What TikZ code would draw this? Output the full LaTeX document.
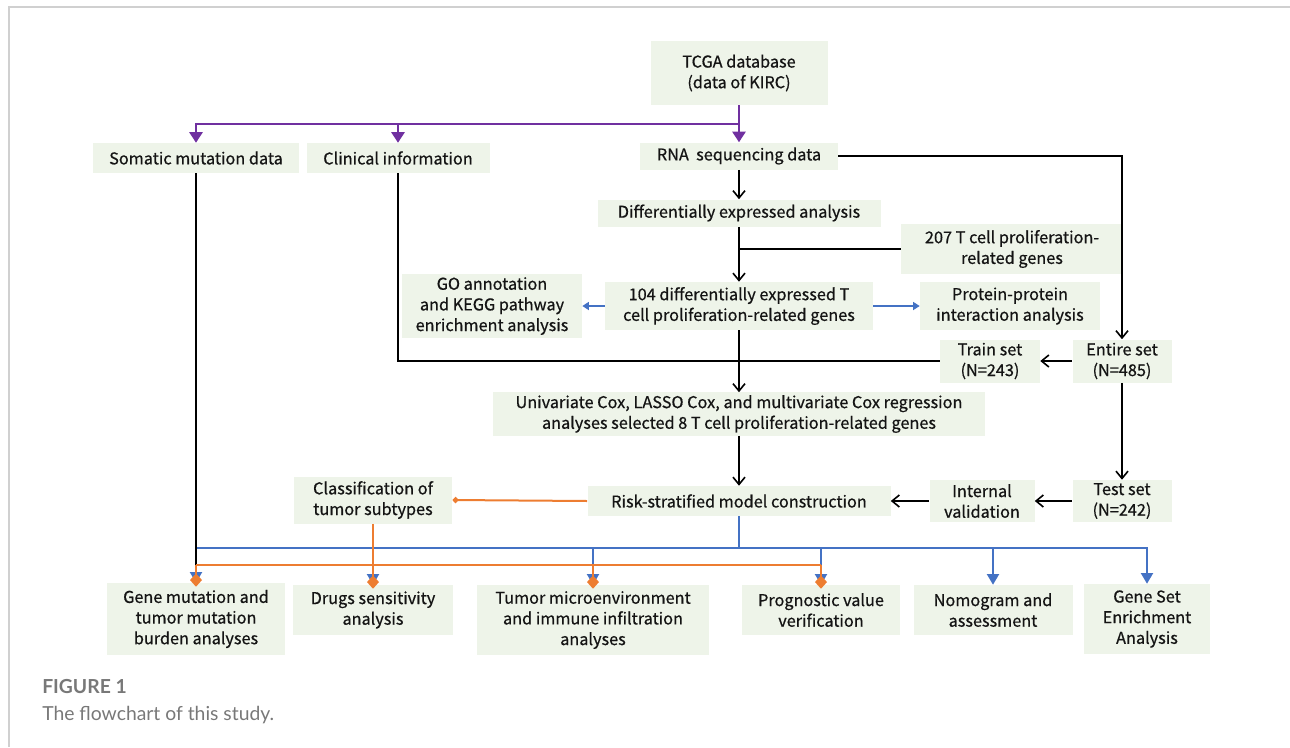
\documentclass[tikz,border=0pt]{standalone}
\usepackage{fontspec}
\setmainfont{Noto Sans CJK SC}
\newfontfamily\boxfont{Noto Sans CJK SC}[FakeBold=0.6]
\newfontfamily\capfont{Lato}
\usetikzlibrary{arrows.meta}

\definecolor{boxgreen}{RGB}{238,244,233}
\definecolor{flowpurple}{RGB}{112,48,160}
\definecolor{flowblue}{RGB}{68,114,196}
\definecolor{floworange}{RGB}{237,125,49}
\definecolor{framegray}{RGB}{208,208,208}
\definecolor{capgray}{RGB}{120,120,120}

\begin{document}
\begin{tikzpicture}[x=0.75pt, y=-0.75pt, line cap=butt, line join=miter]
  \tikzset{
    box/.style={fill=boxgreen, draw=none, inner sep=2pt, align=center,
      font=\boxfont\fontsize{12.2pt}{15.5pt}\selectfont, text=black!92},
    dims/.style 2 args={minimum width=#1*0.75pt, minimum height=#2*0.75pt},
    blk/.style={line width=1.4pt, draw=black},
    blkarr/.style={blk, -{Straight Barb[length=5.5pt, width=9pt, line width=1.2pt]}},
    purp/.style={line width=1.5pt, draw=flowpurple, -{Triangle[length=8pt, width=10pt]}},
    blu/.style={line width=1.5pt, draw=flowblue},
    bluarr/.style={blu, -{Triangle[length=8pt, width=9pt]}},
    bluarrsmall/.style={blu, -{Triangle[length=5pt, width=6pt]}},
    org/.style={line width=1.5pt, draw=floworange},
    orgarr/.style={org, shorten >=-3pt, -{Kite[length=10pt, width=9pt, inset=5pt]}},
    orgarrsmall/.style={org, -{Kite[length=5pt, width=5pt, inset=2.5pt]}}
  }
  \useasboundingbox (0,0) rectangle (1290,747);

  % Frame
  \draw[framegray, line width=1.5pt] (9,747) -- (9,7) -- (1290,7);

  % Source data
  \node[box, dims={177}{64}] (tcga) at (739,73) {TCGA database\\(data of KIRC)};
  \node[box, dims={206}{30}] (somatic) at (196,158) {Somatic mutation data};
  \node[box, dims={183}{30}] (clinical) at (398,158) {Clinical information};
  \node[box, dims={198}{27}] (rna) at (739,156) {RNA\ \ sequencing data};

  % Gene screening
  \node[box, dims={283}{27}] (diff) at (739,213) {Differentially expressed analysis};
  \node[box, dims={222}{50}] (g207) at (1012,249) {207 T cell proliferation-\\related genes};
  \node[box, dims={268}{48}] (deg104) at (739,306) {104 differentially expressed T\\cell proliferation-related genes};
  \node[box, dims={180}{64}] (go) at (492,306) {GO annotation\\and KEGG pathway\\enrichment analysis};
  \node[box, dims={180}{48}] (ppi) at (1010,306) {Protein-protein\\interaction analysis};

  % Sample sets
  \node[box, dims={100}{43}] (train) at (990,361) {Train set\\(N=243)};
  \node[box, dims={99}{43}] (entire) at (1122,361) {Entire set\\(N=485)};
  \node[box, dims={99}{42}] (test) at (1122,501) {Test set\\(N=242)};
  \node[box, dims={105}{42}] (internal) at (982,501) {Internal\\validation};

  % Model
  \node[box, dims={492}{43}] (univ) at (739,414) {Univariate Cox, LASSO Cox, and multivariate Cox regression\\analyses selected 8 T cell proliferation-related genes};
  \node[box, dims={303}{30}] (risk) at (739,501) {Risk-stratified model construction};
  \node[box, dims={158}{47}] (classif) at (373,500) {Classification of\\tumor subtypes};

  % Downstream analyses
  \node[box, dims={178}{72}] (gene) at (196,619) {Gene mutation and\\tumor mutation\\burden analyses};
  \node[box, dims={160}{50}] (drugs) at (373,610) {Drugs sensitivity\\analysis};
  \node[box, dims={232}{70}] (tme) at (593,620) {Tumor microenvironment\\and immune infiltration\\analyses};
  \node[box, dims={158}{50}] (prog) at (821,610) {Prognostic value\\verification};
  \node[box, dims={159}{50}] (nomo) at (993,610) {Nomogram and\\assessment};
  \node[box, dims={126}{70}] (gsea) at (1147,619) {Gene Set\\Enrichment\\Analysis};

  % Purple split from TCGA
  \coordinate (pj) at (739,124);
  \draw[purp] (tcga.south) -- (rna.north);
  \draw[purp] (pj) -| (somatic.north);
  \draw[purp] (pj) -| (clinical.north);

  % Black flow
  \draw[blkarr] (rna) -- (diff);
  \draw[blkarr] (diff) -- (deg104);
  \draw[blk] (g207.west) -- (g207.west -| diff.south);
  \draw[blkarr] (rna.east) -| (entire.north);
  \draw[blkarr] (deg104) -- (univ);
  \draw[blk] (clinical.south) |- (train.west);
  \draw[blkarr] (entire) -- (train);
  \draw[blkarr] (entire) -- (test);
  \draw[blkarr] (test) -- (internal);
  \draw[blkarr] (internal) -- (risk);
  \draw[blkarr] (univ) -- (risk);

  % Blue side analyses
  \draw[bluarrsmall] (deg104) -- (go);
  \draw[bluarrsmall] (deg104) -- (ppi);

  % Blue bus from model
  \coordinate (bj) at (739,548);
  \draw[blu] (risk.south) -- (bj);
  \foreach \target in {gene, drugs, tme, prog, nomo, gsea}
    \draw[bluarr] (bj) -| (\target.north);

  % Somatic data to gene mutation
  \draw[blk] (somatic.south) -- (gene.north);

  % Orange subtype flow
  \coordinate (oj) at (196,565);
  \draw[orgarrsmall] (risk.west) -- (classif.east);
  \draw[orgarr] (classif.south) -- (drugs.north);
  \draw[org] (oj) -- (oj -| prog.north);
  \foreach \target in {gene, tme, prog}
    \draw[orgarr] (oj -| \target.north) -- (\target.north);

  % Caption
  \node[anchor=base west, inner sep=0pt, text=capgray, font=\capfont\bfseries\fontsize{14.5pt}{16pt}\selectfont] (capnum) at (42,693) {FIGURE 1};
  \node[anchor=base west, inner sep=0pt, text=capgray, font=\capfont\fontsize{14.5pt}{16pt}\selectfont] (captext) at (42,720) {The flowchart of this study.};
\end{tikzpicture}
\end{document}
